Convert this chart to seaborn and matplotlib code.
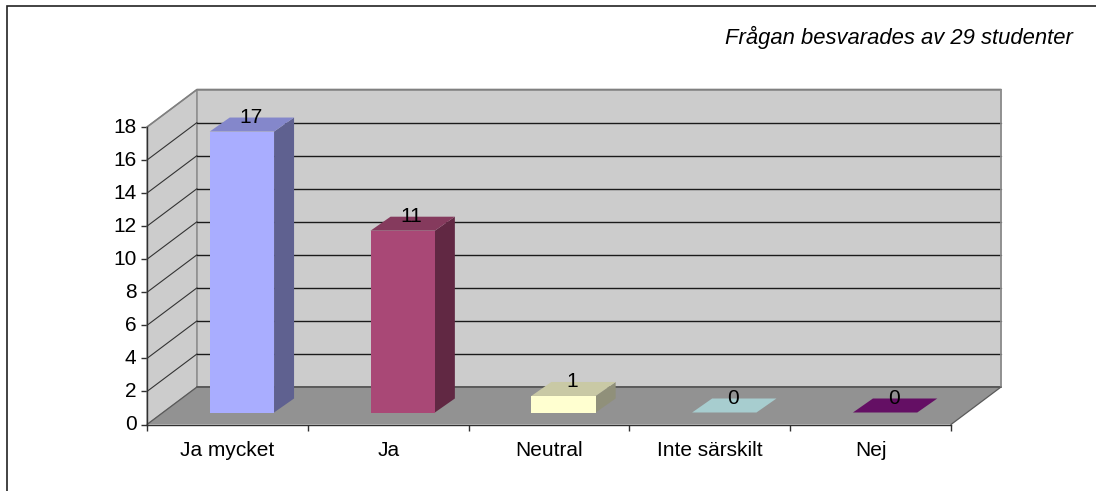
import matplotlib
matplotlib.use("Agg")
import matplotlib.pyplot as plt
import pandas as pd
import seaborn as sns
from matplotlib.patches import Polygon, Rectangle
from matplotlib.transforms import Affine2D

categories = ['Ja mycket', 'Ja', 'Neutral', 'Inte särskilt', 'Nej']
counts = [17, 11, 1, 0, 0]
y_ticks = [0, 2, 4, 6, 8, 10, 12, 14, 16, 18]
note = 'Frågan besvarades av 29 studenter'

front_colors = ['#A9ADFF', '#A94876', '#FFFFD0', '#A7CDCF', '#640F64']
side_colors = ['#5F6190', '#612843', '#90907A', '#A7CDCF', '#640F64']
top_colors = ['#8487CB', '#853A5D', '#C9C9A5', '#A7CDCF', '#640F64']

W, H = 1096, 491
sns.set_theme(style='white')
plt.rcParams['font.family'] = ['Liberation Sans', 'DejaVu Sans']

fig = plt.figure(figsize=(W / 100, H / 100), dpi=100, facecolor='white')
ax = fig.add_axes([147 / W, 1 - 424.5 / H, 804 / W, 297.5 / H])

df = pd.DataFrame({'cat': categories, 'n': counts})
sns.barplot(data=df, x='cat', y='n', hue='cat', palette=front_colors, legend=False,
            width=0.4, saturation=1, linewidth=0, ax=ax, zorder=5)
ax.set_xlim(-0.5, 4.5)
ax.set_ylim(0, 18)
ax.set_xlabel('')
ax.set_ylabel('')
ax.set_facecolor('none')

# depth of the fake 3d box, in data units (50px and 37.5px)
dx = 50 / 160.8
dy = 37.5 / 16.53
# bars stand a bit behind the front edge of the floor
bar_dx = 14.5 / 160.8
bar_dy = 12 / 16.53
# depth of a bar
side_dx = 20 / 160.8
side_dy = 14 / 16.53

wall = '#CCCCCC'
floor = '#929292'
ax.add_patch(Polygon([(-0.5, 0), (-0.5, 18), (-0.5 + dx, 18 + dy), (-0.5 + dx, dy)], closed=True,
                     fc=wall, ec='#808080', lw=0.8, clip_on=False, zorder=1))
ax.add_patch(Rectangle((-0.5 + dx, dy), 5, 18, fc=wall, ec='#909090', lw=1.2, clip_on=False, zorder=1))
ax.add_patch(Polygon([(-0.5, 0), (-0.5 + dx, dy), (4.5 + dx, dy), (4.5, 0)], closed=True,
                     fc=floor, ec='none', clip_on=False, zorder=1.5))

for t in y_ticks[1:-1]:
    ax.plot([-0.5, -0.5 + dx], [t, t + dy], color='#333333', lw=0.8, clip_on=False, zorder=2)
    ax.plot([-0.5 + dx, 4.5 + dx], [t + dy, t + dy], color='#1A1A1A', lw=1, clip_on=False, zorder=2)
ax.plot([-0.5, -0.5 + dx, 4.5 + dx], [18, 18 + dy, 18 + dy], color='#808080', lw=1.2, clip_on=False, zorder=2)
ax.plot([-0.5 + dx, 4.5 + dx], [dy, dy], color='#5A5A5A', lw=1.4, clip_on=False, zorder=2)
ax.plot([4.5 + dx, 4.5 + dx], [dy, 18 + dy], color='#909090', lw=1.2, clip_on=False, zorder=2)
ax.plot([-0.5, -0.5 + dx], [0, dy], color='#5A5A5A', lw=0.9, clip_on=False, zorder=2)
ax.plot([4.5, 4.5 + dx], [0, dy], color='#5A5A5A', lw=0.9, clip_on=False, zorder=2)

bars = ax.patches[:len(categories)]
for i, bar in enumerate(bars):
    bar.set_x(bar.get_x() + bar_dx)
    bar.set_y(bar.get_y() + bar_dy)
    bar.set_clip_on(False)
    x0 = bar.get_x()
    x1 = x0 + bar.get_width()
    y0 = bar.get_y()
    y1 = y0 + counts[i]
    ax.add_patch(Polygon([(x1, y0), (x1 + side_dx, y0 + side_dy), (x1 + side_dx, y1 + side_dy), (x1, y1)],
                         closed=True, fc=side_colors[i], ec='none', clip_on=False, zorder=4))
    ax.add_patch(Polygon([(x0, y1), (x0 + side_dx, y1 + side_dy), (x1 + side_dx, y1 + side_dy), (x1, y1)],
                         closed=True, fc=top_colors[i], ec='none', clip_on=False, zorder=4))
    ax.annotate(str(counts[i]), ((x0 + x1) / 2 + side_dx / 2, y1 + side_dy), xytext=(-1, 0),
                textcoords='offset pixels', ha='center', va='center',
                fontsize=15, color='black', zorder=6, annotation_clip=False)

# axes frame and ticks
for s in ['top', 'right']:
    ax.spines[s].set_visible(False)
for s in ['left', 'bottom']:
    ax.spines[s].set_color('#303030')
    ax.spines[s].set_linewidth(1)
    ax.spines[s].set_zorder(3)
ax.set_yticks(y_ticks)
ax.set_xticks([x - 0.5 for x in range(6)], minor=False)
ax.set_xticklabels([])
ax.tick_params(axis='both', which='major', direction='out', length=4.5, width=1, color='#303030',
               left=True, bottom=True, labelsize=15, labelcolor='black')
ax.tick_params(axis='y', pad=3)
# y labels sit a little above their ticks in the original
for lab in ax.get_yticklabels():
    lab.set_transform(lab.get_transform() + Affine2D().translate(0, 1.5))
for i, c in enumerate(categories):
    ax.annotate(c, (i, 0), xytext=(0, -25.5), textcoords='offset pixels', ha='center', va='center',
                fontsize=15, color='black', annotation_clip=False)

fig.text(1073 / W, 1 - 37 / H, note, ha='right', va='center', style='italic', fontsize=15.8, color='black')
# outer chart border, only top and left show in the crop
fig.add_artist(Rectangle((7 / W, 1 - 495 / H), 1095 / W, 488.5 / H, fc='none', ec='#222222', lw=1.2,
                         transform=fig.transFigure))

fig.savefig('out.png', dpi=100)
